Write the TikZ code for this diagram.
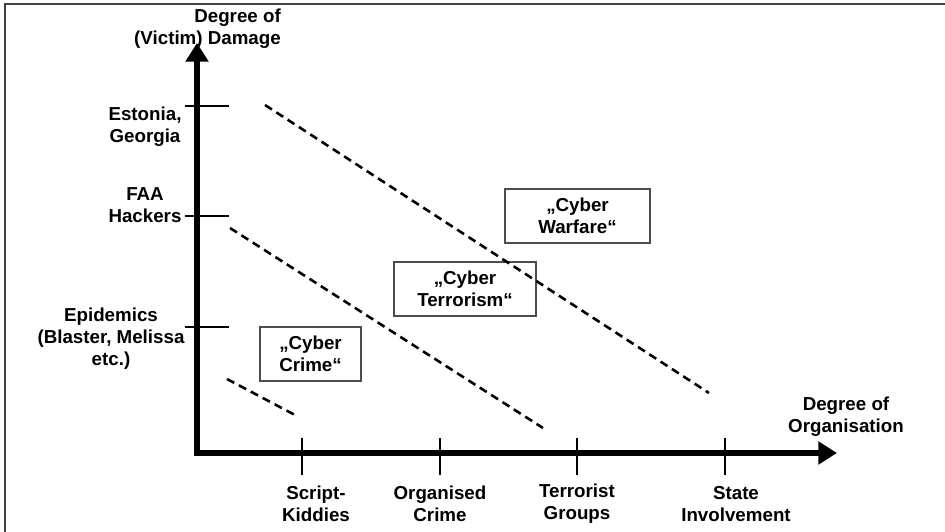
\documentclass[tikz,border=0pt]{standalone}
\usepackage{fontspec}
\setmainfont{Liberation Sans}
\usetikzlibrary{arrows.meta}

\tikzset{
  lbl/.style={font=\fontsize{16}{18.7}\selectfont\bfseries, align=center, inner sep=0pt},
  areabox/.style={lbl, draw=black!70, line width=1.7pt},
  axisline/.style={line width=5pt, line join=miter,
    {Triangle[length=16pt,width=19pt]}-{Triangle[length=16pt,width=19pt]}},
  tickline/.style={line width=2.4pt},
  border/.style={dashed, line width=2.2pt, dash pattern=on 7pt off 4.5pt}
}

\begin{document}
\begin{tikzpicture}[x=0.03cm,y=-0.03cm]

\useasboundingbox (0,0) rectangle (945,532);

% Frame
\draw [line width=1.7pt, black!75] (5,532) |- (945,4);

% Axis
\coordinate (ytip) at (197,43);
\coordinate (xtip) at (837,453);
\draw [axisline] (ytip) |- (xtip);

\node [lbl, align=right, anchor=east] (ytitle) at (281,29) {Degree of\\(Victim) Damage};
\node [lbl] (xtitle) at (846,417) {Degree of\\Organisation};

% Ticks on y
\draw [tickline] (185,106) -- (229,106);
\draw [tickline] (185,216) -- (229,216);
\draw [tickline] (185,327) -- (229,327);

\node [lbl] (estonia) at (145,127) {Estonia,\\Georgia};
\node [lbl] (faa) at (145,205) {FAA\\Hackers};
\node [lbl] (epidemics) at (111,339) {Epidemics\\(Blaster, Melissa\\etc.)};

% Ticks on x
\draw [tickline] (302,438) -- (302,475);
\draw [tickline] (440,438) -- (440,475);
\draw [tickline] (577,438) -- (577,475);
\draw [tickline] (725,438) -- (725,475);

\node [lbl] (script) at (316,504) {Script-\\Kiddies};
\node [lbl] (orgcrime) at (440,504) {Organised\\Crime};
\node [lbl] (terrorist) at (577,504) {Terrorist\\Groups};
\node [lbl] (state) at (736,504) {State\\Involvement};

% Areas
\node [areabox, minimum width=4.35cm, minimum height=1.6cm] (warfare) at (577.5,216) {„Cyber\\Warfare“};
\node [areabox, minimum width=4.26cm, minimum height=1.62cm] (terrorism) at (465,289) {„Cyber\\Terrorism“};
\node [areabox, minimum width=3.03cm, minimum height=1.62cm] (crime) at (310.5,354) {„Cyber\\Crime“};

% Borders
\coordinate (b1s) at (265,105);
\coordinate (b1e) at (709,393);
\coordinate (b2s) at (230,228);
\coordinate (b2e) at (543,428);
\coordinate (b3s) at (227,379);
\coordinate (b3e) at (295,415);
\draw [border] (b1s) -- (b1e);
\draw [border] (b2s) -- (b2e);
\draw [border] (b3s) -- (b3e);
\end{tikzpicture}
\end{document}
